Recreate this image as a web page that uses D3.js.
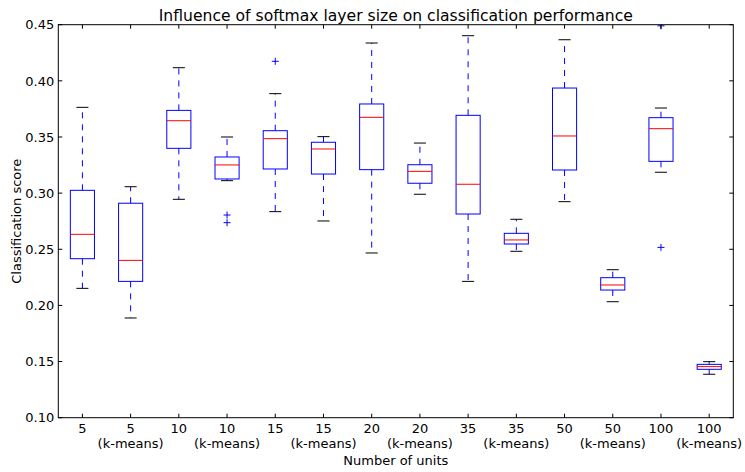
<!DOCTYPE html>
<html><head><meta charset="utf-8">
<script src="https://cdn.jsdelivr.net/npm/d3@7"></script>
<style>body{margin:0;background:#fff}svg{display:block}text{font-family:"DejaVu Sans",sans-serif;fill:#000}</style>
</head><body>
<script>
const units = ["5","5","10","10","15","15","20","20","35","35","50","50","100","100"];
const kmeans = [false,true,false,true,false,true,false,true,false,true,false,true,false,true];
const whiskerLow = [0.2152,0.1888,0.2945,0.3111,0.2835,0.2752,0.2467,0.2990,0.2214,0.2482,0.2924,0.2033,0.3186,0.1387];
const q1 = [0.2416,0.2214,0.3399,0.3126,0.3215,0.3170,0.3209,0.3088,0.2814,0.2547,0.3206,0.2137,0.3283,0.1431];
const median = [0.2633,0.2401,0.3645,0.3251,0.3485,0.3393,0.3675,0.3194,0.3079,0.2583,0.3509,0.2182,0.3574,0.1455];
const q3 = [0.3025,0.2910,0.3737,0.3322,0.3556,0.3453,0.3794,0.3253,0.3693,0.2642,0.3936,0.2247,0.3672,0.1475];
const whiskerHigh = [0.3764,0.3057,0.4117,0.3500,0.3886,0.3503,0.4337,0.3446,0.4402,0.2767,0.4366,0.2318,0.3758,0.1499];
const outliers = [[],[],[],[0.2805,0.2737],[0.4174],[],[],[],[],[],[],[],[0.4490,0.2517],[]];
const yTicks = [0.10,0.15,0.20,0.25,0.30,0.35,0.40,0.45];

const W=745,H=472;
const L=58.3,R=733.3,T=24.7,B=417.7;
const svg=d3.select("body").append("svg").attr("width",W).attr("height",H);
const x=d3.scaleLinear().domain([0.5,14.5]).range([L,R]);
const y=d3.scaleLinear().domain([0.10,0.45]).range([B,T]);
const idx=d3.range(units.length);

svg.append("clipPath").attr("id","clip").append("rect").attr("x",L).attr("y",T).attr("width",R-L).attr("height",B-T);
const g=svg.append("g").attr("clip-path","url(#clip)");

idx.forEach(i=>{
  const cx=x(i+1), hw=(x(1.25)-x(1)), cw=(x(1.125)-x(1));
  g.append("line").attr("x1",cx).attr("x2",cx).attr("y1",y(q3[i])).attr("y2",y(whiskerHigh[i])).attr("stroke","#0000ff").attr("stroke-width",1).attr("stroke-dasharray","6,6");
  g.append("line").attr("x1",cx).attr("x2",cx).attr("y1",y(q1[i])).attr("y2",y(whiskerLow[i])).attr("stroke","#0000ff").attr("stroke-width",1).attr("stroke-dasharray","6,6");
  [whiskerHigh[i],whiskerLow[i]].forEach(v=>g.append("line").attr("x1",cx-cw).attr("x2",cx+cw).attr("y1",y(v)).attr("y2",y(v)).attr("stroke","#000").attr("stroke-width",1));
  g.append("rect").attr("x",cx-hw).attr("width",2*hw).attr("y",y(q3[i])).attr("height",y(q1[i])-y(q3[i])).attr("fill","none").attr("stroke","#0000ff").attr("stroke-width",1);
  g.append("line").attr("x1",cx-hw).attr("x2",cx+hw).attr("y1",y(median[i])).attr("y2",y(median[i])).attr("stroke","#ff0000").attr("stroke-width",1);
  outliers[i].forEach(v=>{
    g.append("path").attr("d",`M${cx-3.5},${y(v)}h7M${cx},${y(v)-3.5}v7`).attr("stroke","#0000ff").attr("stroke-width",1).attr("fill","none");
  });
});

svg.append("rect").attr("x",L).attr("y",T).attr("width",R-L).attr("height",B-T).attr("fill","none").attr("stroke","#000").attr("stroke-width",1);

const tk=svg.append("g").attr("stroke","#000").attr("stroke-width",1);
idx.forEach(i=>{
  const cx=x(i+1);
  tk.append("line").attr("x1",cx).attr("x2",cx).attr("y1",B).attr("y2",B-4);
  tk.append("line").attr("x1",cx).attr("x2",cx).attr("y1",T).attr("y2",T+4);
});
yTicks.forEach(v=>{
  tk.append("line").attr("x1",L).attr("x2",L+4).attr("y1",y(v)).attr("y2",y(v));
  tk.append("line").attr("x1",R).attr("x2",R-4).attr("y1",y(v)).attr("y2",y(v));
});

const fs=13;
yTicks.forEach(v=>{
  svg.append("text").attr("x",L-4).attr("y",y(v)).attr("dy","0.36em").attr("text-anchor","end").attr("font-size",fs).text(d3.format(".2f")(v));
});
idx.forEach(i=>{
  const cx=x(i+1);
  svg.append("text").attr("x",cx).attr("y",432.5).attr("text-anchor","middle").attr("font-size",fs).text(units[i]);
  if(kmeans[i]) svg.append("text").attr("x",cx).attr("y",448).attr("text-anchor","middle").attr("font-size",fs).text("(k-means)");
});
svg.append("text").attr("x",(L+R)/2).attr("y",465).attr("text-anchor","middle").attr("font-size",fs).text("Number of units");
svg.append("text").attr("transform",`translate(21,${(T+B)/2}) rotate(-90)`).attr("text-anchor","middle").attr("font-size",fs).text("Classification score");
svg.append("text").attr("x",(L+R)/2).attr("y",20.5).attr("text-anchor","middle").attr("font-size",15.6).text("Influence of softmax layer size on classification performance");
</script>
</body></html>
